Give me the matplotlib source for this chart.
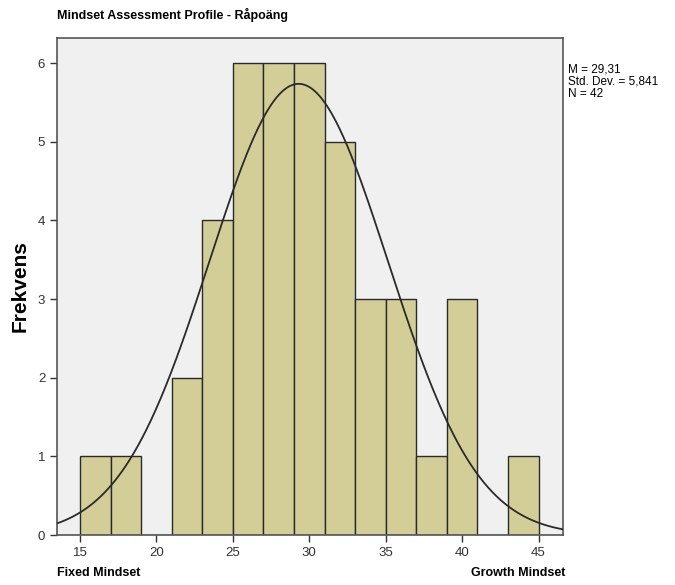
import numpy as np
import matplotlib
matplotlib.use("Agg")
import matplotlib.pyplot as plt

bin_edges = [15, 17, 19, 21, 23, 25, 27, 29, 31, 33, 35, 37, 39, 41, 43, 45]
counts = [1, 1, 0, 2, 4, 6, 6, 6, 5, 3, 3, 1, 3, 0, 1]
mean = 29.31
sd = 5.841
n = 42
x_ticks = [15, 20, 25, 30, 35, 40, 45]
y_ticks = [0, 1, 2, 3, 4, 5, 6]

plt.rcParams['font.family'] = ['Liberation Sans', 'DejaVu Sans']

fig = plt.figure(figsize=(6.75, 5.85), dpi=100)
ax = fig.add_axes([57/675, 50/585, (563-57)/675, (535-38)/585])
ax.set_facecolor('#f0f0f0')

lefts = np.array(bin_edges[:-1])
widths = np.diff(bin_edges)
ax.bar(lefts, counts, width=widths, align='edge', color='#d3ce98',
       edgecolor='#2a2a2a', linewidth=1.0, zorder=2)

xs = np.linspace(13.5, 46.6, 400)
binw = widths[0]
ys = n * binw * np.exp(-0.5 * ((xs - mean) / sd) ** 2) / (sd * np.sqrt(2 * np.pi))
ax.plot(xs, ys, color='#2a2a2a', linewidth=1.3, zorder=3)

ax.set_xlim(13.5, 46.6)
ax.set_ylim(0, 6.32)
ax.set_xticks(x_ticks)
ax.set_yticks(y_ticks)
ax.tick_params(axis='both', labelsize=9.5, colors='#333333', length=5, width=1)
for s in ax.spines.values():
    s.set_color('#555555')
    s.set_linewidth(1.2)

ax.set_ylabel('Frekvens', fontsize=15, fontweight='bold', labelpad=6)

fig.text(57/675, 1 - 15/585, 'Mindset Assessment Profile - Råpoäng',
         fontsize=9, fontweight='bold', ha='left', va='center')
mean_s = f'{mean:.2f}'.replace('.', ',')
sd_s = f'{sd:.3f}'.replace('.', ',')
fig.text(568/675, 1 - 64/585, f'M = {mean_s}\nStd. Dev. = {sd_s}\nN = {n}',
         fontsize=8.5, ha='left', va='top', linespacing=1.0)
fig.text(57/675, 1 - 573/585, 'Fixed Mindset', fontsize=9, fontweight='bold',
         ha='left', va='center')
fig.text(565/675, 1 - 573/585, 'Growth Mindset', fontsize=9, fontweight='bold',
         ha='right', va='center')

fig.savefig('out.png', dpi=100)
